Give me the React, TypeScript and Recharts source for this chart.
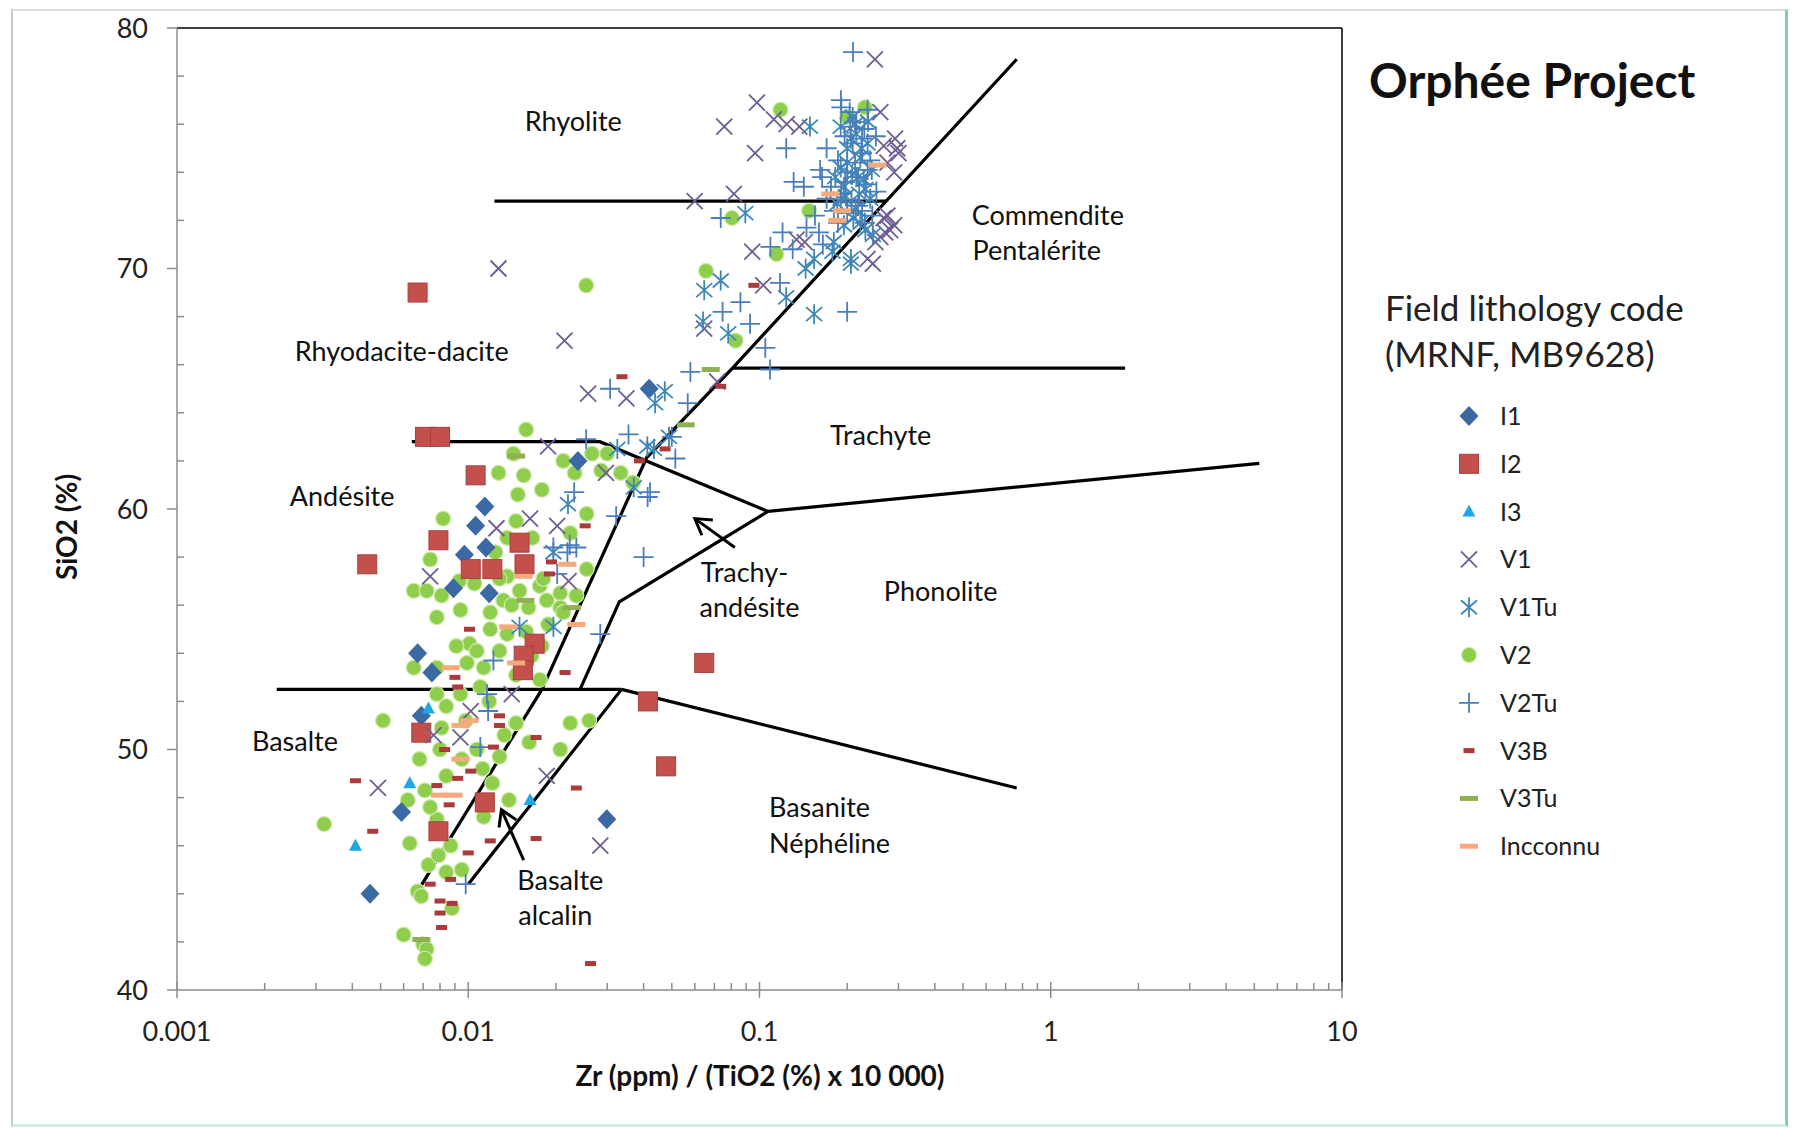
import React from 'react';
import { ScatterChart, Scatter, XAxis, YAxis, ReferenceLine, ReferenceDot, Legend } from 'recharts';

type Pt = [number, number];

const FONT = 'Lato, "Open Sans", sans-serif';
const AXIS = '#8c8c8c';

// axis ticks
const xMajor = [0.001, 0.01, 0.1, 1, 10];
const xTicks = [
  0.001, 0.002, 0.003, 0.004, 0.005, 0.006, 0.007, 0.008, 0.009,
  0.01, 0.02, 0.03, 0.04, 0.05, 0.06, 0.07, 0.08, 0.09,
  0.1, 0.2, 0.3, 0.4, 0.5, 0.6, 0.7, 0.8, 0.9,
  1, 2, 3, 4, 5, 6, 7, 8, 9, 10,
];
const yMajor = [40, 50, 60, 70, 80];
const yTicks = [40, 42, 44, 46, 48, 50, 52, 54, 56, 58, 60, 62, 64, 66, 68, 70, 72, 74, 76, 78, 80];

// field boundaries, Zr/TiO2 vs SiO2
const rhyoliteLine: Pt[] = [[0.0123, 72.8], [0.272, 72.8]];
const comenditeLine: Pt[] = [[0.764, 78.7], [0.0808, 65.86], [0.041, 62.14], [0.0179, 52.5], [0.0067, 44.1]];
const trachyteLine: Pt[] = [[0.0808, 65.86], [1.8, 65.86]];
const andesiteLine: Pt[] = [[0.0064, 62.8], [0.0283, 62.8], [0.107, 59.9]];
const phonoliteLine: Pt[] = [[0.107, 59.9], [5.2, 61.9]];
const trachyandesiteLine: Pt[] = [[0.107, 59.9], [0.033, 56.14], [0.0242, 52.5]];
const basaltLine: Pt[] = [[0.0022, 52.5], [0.0336, 52.5]];
const basaniteLine: Pt[] = [[0.0336, 52.5], [0.764, 48.4]];
const alkaliBasaltLine: Pt[] = [[0.0336, 52.5], [0.01, 44.4]];
const boundaries = [
  rhyoliteLine, comenditeLine, trachyteLine, andesiteLine, phonoliteLine,
  trachyandesiteLine, basaltLine, basaniteLine, alkaliBasaltLine,
];

const arrowTrachy: Pt[] = [[0.0823, 58.4], [0.06, 59.6]];
const arrowAlcalin: Pt[] = [[0.0155, 45.4], [0.013, 47.5]];

const fieldLabels: { text: string; x: number; y: number }[] = [
  { text: 'Rhyolite', x: 0.02295, y: 76.13 },
  { text: 'Commendite', x: 0.977, y: 72.22 },
  { text: 'Pentalérite', x: 0.895, y: 70.75 },
  { text: 'Rhyodacite-dacite', x: 0.00591, y: 66.57 },
  { text: 'Trachyte', x: 0.2606, y: 63.08 },
  { text: 'Andésite', x: 0.00369, y: 60.52 },
  { text: 'Trachy-', x: 0.0888, y: 57.38 },
  { text: 'andésite', x: 0.0924, y: 55.9 },
  { text: 'Phonolite', x: 0.4188, y: 56.57 },
  { text: 'Basalte', x: 0.00254, y: 50.35 },
  { text: 'Basanite', x: 0.1607, y: 47.58 },
  { text: 'Néphéline', x: 0.174, y: 46.1 },
  { text: 'Basalte', x: 0.0207, y: 44.57 },
  { text: 'alcalin', x: 0.0199, y: 43.1 },
];

// samples: [Zr/TiO2, SiO2]
const I1: Pt[] = [
  [0.0418, 65.0], [0.0238, 62.0], [0.0114, 60.1], [0.0106, 59.3], [0.0097, 58.1], [0.0115, 58.4],
  [0.0089, 56.7], [0.0118, 56.5], [0.0067, 54.0], [0.0075, 53.2], [0.0069, 51.4], [0.0059, 47.4],
  [0.0046, 44.0], [0.0299, 47.1],
];
const I2: Pt[] = [
  [0.0067, 69.0], [0.0071, 63.0], [0.008, 63.0], [0.0106, 61.4], [0.0045, 57.7], [0.0079, 58.7],
  [0.0102, 57.5], [0.0121, 57.5], [0.015, 58.6], [0.0156, 57.7], [0.0169, 54.4], [0.0155, 53.9],
  [0.0154, 53.3], [0.0646, 53.6], [0.0414, 52.0], [0.0478, 49.3], [0.0114, 47.8], [0.0079, 46.6],
  [0.0069, 50.7],
];
const I3: Pt[] = [[0.0063, 48.6], [0.0041, 46.0], [0.0073, 51.7], [0.0163, 47.9]];
const V1: Pt[] = [
  [0.249, 78.7], [0.098, 76.9], [0.0757, 75.9], [0.0966, 74.8], [0.0599, 72.8], [0.0817, 73.1],
  [0.0944, 70.7], [0.103, 69.3], [0.0646, 67.5], [0.0716, 65.3], [0.245, 70.2],
  [0.112, 76.2], [0.124, 76.0], [0.137, 75.9], [0.26, 76.5], [0.267, 75.1], [0.297, 75.0],
  [0.292, 75.4], [0.3, 74.8], [0.275, 74.4], [0.29, 74.0],
  [0.267, 72.1], [0.281, 71.6], [0.26, 71.3], [0.275, 72.2], [0.29, 71.8], [0.27, 71.5],
  [0.25, 71.1], [0.235, 70.4], [0.134, 71.2], [0.143, 71.1],
  [0.0127, 70.0], [0.0214, 67.0], [0.0258, 64.8], [0.0349, 64.6], [0.0188, 62.6], [0.0297, 61.5],
  [0.0163, 59.6], [0.0074, 57.2], [0.0125, 59.2], [0.0221, 57.0], [0.0202, 59.3], [0.0141, 52.3],
  [0.0102, 51.6], [0.0076, 50.6], [0.0094, 50.5], [0.0049, 48.4], [0.0186, 48.9], [0.0284, 46.0],
];
const V1Tu: Pt[] = [
  [0.149, 75.9], [0.0894, 72.3], [0.144, 70.0], [0.178, 70.7], [0.206, 70.2], [0.0736, 69.5],
  [0.0646, 69.1], [0.1235, 68.8], [0.154, 68.1], [0.064, 67.8], [0.0781, 67.3], [0.0473, 64.9],
  [0.0438, 64.4], [0.0412, 62.6], [0.0489, 63.0], [0.0325, 62.5],
  [0.209, 76.3], [0.206, 75.4], [0.224, 75.0], [0.2, 74.4], [0.218, 73.8], [0.231, 73.3],
  [0.195, 73.4], [0.185, 72.7], [0.214, 72.5], [0.231, 71.6], [0.18, 71.1], [0.206, 70.4], [0.154, 70.4],
  [0.19, 75.9], [0.215, 75.6], [0.235, 75.2], [0.2, 75.0], [0.222, 74.6], [0.19, 74.2], [0.243, 74.1],
  [0.208, 73.9], [0.228, 73.7], [0.198, 73.0], [0.22, 73.1], [0.24, 72.9], [0.21, 72.1], [0.195, 71.8],
  [0.222, 71.9], [0.245, 71.4], [0.19, 72.9], [0.213, 76.0], [0.236, 76.1], [0.182, 73.8],
  [0.022, 60.2], [0.0196, 58.2], [0.015, 55.1], [0.0196, 55.1], [0.037, 60.9], [0.0434, 62.5],
];
const V2: Pt[] = [
  [0.0158, 63.3], [0.0143, 62.3], [0.0127, 61.5], [0.0155, 61.4], [0.0179, 60.8], [0.0082, 59.6],
  [0.0255, 59.8], [0.0224, 59.0], [0.0212, 62.0], [0.0232, 61.5], [0.0266, 62.3], [0.0286, 61.6],
  [0.0074, 57.9], [0.0065, 56.6], [0.0072, 56.6], [0.0081, 56.4], [0.0078, 55.5], [0.0094, 55.8],
  [0.0136, 57.2], [0.015, 56.6], [0.0176, 56.8], [0.0207, 56.5], [0.0119, 55.7], [0.0119, 55.0],
  [0.0101, 54.4], [0.0136, 54.8], [0.0128, 54.1], [0.0091, 54.3], [0.0065, 53.4], [0.0099, 53.6],
  [0.0113, 53.4], [0.0207, 55.9], [0.0161, 55.9], [0.0235, 56.4], [0.0255, 57.5], [0.0107, 54.1],
  [0.0078, 53.4], [0.0084, 51.8], [0.0078, 52.3], [0.0094, 52.3], [0.0051, 51.2], [0.0081, 50.9],
  [0.0146, 51.1], [0.0146, 59.5], [0.0136, 58.8], [0.0128, 57.1], [0.0132, 56.2], [0.0181, 57.1],
  [0.0186, 56.2], [0.0212, 55.7], [0.0179, 54.3], [0.0146, 53.1], [0.0176, 52.9], [0.0224, 51.1],
  [0.026, 51.2], [0.0068, 49.6], [0.008, 50.0], [0.0084, 48.9], [0.0095, 49.6], [0.0107, 50.0],
  [0.0162, 50.3], [0.0207, 50.0], [0.0063, 46.1], [0.0078, 47.1], [0.0087, 46.0], [0.0113, 47.2],
  [0.0067, 44.1], [0.0069, 43.9], [0.0084, 44.9], [0.0095, 45.0], [0.0088, 43.4], [0.006, 42.3],
  [0.007, 41.9], [0.0072, 41.7], [0.0071, 41.3], [0.0032, 46.9], [0.0166, 58.8], [0.011, 52.6],
  [0.0121, 48.6], [0.0138, 47.9], [0.0071, 48.3], [0.0074, 47.6], [0.0062, 47.9],
  [0.0105, 56.9], [0.0124, 58.2], [0.0093, 57.0], [0.0141, 56.0], [0.0158, 54.9], [0.0188, 55.2],
  [0.0118, 52.0], [0.0133, 50.6], [0.0098, 51.2], [0.0112, 49.2], [0.0128, 49.7], [0.0073, 45.2],
  [0.0079, 45.6], [0.0165, 53.9], [0.0148, 60.6],
  [0.0254, 69.3], [0.1143, 70.6], [0.0828, 67.0], [0.0805, 72.1], [0.118, 76.6], [0.23, 76.7],
  [0.0655, 69.9], [0.148, 72.4], [0.2, 76.3], [0.03, 62.3], [0.0334, 61.5], [0.0368, 61.1],
];
const V2Tu: Pt[] = [
  [0.2094, 79.0], [0.1903, 77.0], [0.1235, 75.0], [0.131, 73.6], [0.142, 73.4], [0.1615, 74.1],
  [0.109, 70.9], [0.13, 70.8], [0.16, 71.5],
  [0.191, 76.7], [0.204, 76.5], [0.215, 76.1], [0.229, 75.8], [0.196, 75.5], [0.209, 75.2],
  [0.225, 74.8], [0.24, 74.5], [0.186, 74.5], [0.2, 74.0], [0.215, 73.8], [0.232, 73.5],
  [0.176, 73.4], [0.191, 73.1], [0.207, 72.8], [0.225, 72.4], [0.244, 72.2], [0.18, 72.4],
  [0.164, 73.8], [0.17, 75.0], [0.251, 75.5], [0.235, 76.6],
  [0.205, 75.9], [0.225, 75.4], [0.213, 74.4], [0.197, 73.6], [0.235, 74.1], [0.218, 72.6],
  [0.2, 72.3], [0.23, 71.9], [0.186, 71.9], [0.17, 72.9], [0.252, 73.2], [0.165, 71.0],
  [0.155, 72.2], [0.145, 71.7], [0.12, 71.5],
  [0.0736, 72.1], [0.2, 68.2], [0.086, 68.6], [0.0747, 68.2], [0.0928, 67.7], [0.1047, 66.7],
  [0.1087, 65.8], [0.0579, 65.7], [0.1176, 69.4],
  [0.0307, 65.0], [0.0567, 64.4], [0.0355, 63.1], [0.05, 63.0], [0.0514, 62.1], [0.0421, 60.7],
  [0.0254, 62.9], [0.0413, 60.5], [0.0322, 59.7], [0.04, 58.0], [0.0284, 54.8], [0.0223, 58.5],
  [0.0231, 60.7], [0.0196, 58.4], [0.0219, 58.2], [0.0235, 58.4], [0.0202, 57.3], [0.0122, 53.7],
  [0.0116, 52.3], [0.0117, 51.6], [0.011, 50.1], [0.0098, 44.4],
];
const V3B: Pt[] = [
  [0.0041, 48.7], [0.0047, 46.6], [0.0083, 50.0], [0.0092, 48.8], [0.0078, 48.5], [0.0086, 47.7],
  [0.01, 45.7], [0.0119, 46.2], [0.0171, 46.3], [0.0235, 48.4], [0.0215, 53.2], [0.0171, 50.5],
  [0.0128, 51.4], [0.0128, 51.0], [0.0122, 50.1], [0.0102, 49.1], [0.0087, 44.6], [0.008, 43.7],
  [0.0088, 43.6], [0.008, 43.2], [0.0081, 42.6], [0.0263, 41.1], [0.009, 53.0], [0.0092, 52.6],
  [0.0074, 44.4], [0.0337, 65.5], [0.0474, 62.5], [0.0387, 62.0], [0.0957, 69.3], [0.0736, 65.1],
  [0.0252, 59.3], [0.0193, 57.8], [0.019, 57.3], [0.0101, 55.0],
];
const V3Tu: Pt[] = [[0.068, 65.8], [0.0558, 63.5], [0.0157, 56.2], [0.0227, 55.9], [0.0146, 62.2], [0.0069, 42.1]];
const Incconnu: Pt[] = [
  [0.254, 74.3], [0.175, 73.1], [0.192, 72.4], [0.185, 72.0], [0.0155, 57.2], [0.0219, 57.7],
  [0.0137, 55.1], [0.0235, 55.2], [0.0087, 53.4], [0.0146, 53.6], [0.0094, 51.0], [0.0101, 51.2],
  [0.008, 48.1], [0.0089, 48.1], [0.0094, 49.6],
];

const legendOrder = ['I1', 'I2', 'I3', 'V1', 'V1Tu', 'V2', 'V2Tu', 'V3B', 'V3Tu', 'Incconnu'];
// V2 drawn first so the other codes sit on top of the green cloud
const series: { name: string; pts: Pt[] }[] = [
  { name: 'V2', pts: V2 },
  { name: 'I1', pts: I1 },
  { name: 'I2', pts: I2 },
  { name: 'I3', pts: I3 },
  { name: 'V1', pts: V1 },
  { name: 'V1Tu', pts: V1Tu },
  { name: 'V2Tu', pts: V2Tu },
  { name: 'V3B', pts: V3B },
  { name: 'V3Tu', pts: V3Tu },
  { name: 'Incconnu', pts: Incconnu },
];

const toObj = (pts: Pt[]) => pts.map(([x, y]) => ({ x, y }));

const markers: Record<string, (x: number, y: number) => React.ReactElement> = {
  I1: (x, y) => <path d={`M${x},${y - 10}L${x + 9.5},${y}L${x},${y + 10}L${x - 9.5},${y}Z`} fill="#3b69a3" />,
  I2: (x, y) => <rect x={x - 9.5} y={y - 9.5} width={19} height={19} fill="#c4504c" stroke="#a6403d" strokeWidth={1} />,
  I3: (x, y) => <path d={`M${x},${y - 7}L${x + 6.5},${y + 5}L${x - 6.5},${y + 5}Z`} fill="#1da7e5" />,
  V1: (x, y) => (
    <path d={`M${x - 8},${y - 8}L${x + 8},${y + 8}M${x - 8},${y + 8}L${x + 8},${y - 8}`} stroke="#6d5d93" strokeWidth={1.8} fill="none" />
  ),
  V1Tu: (x, y) => (
    <path
      d={`M${x - 8},${y - 7}L${x + 8},${y + 7}M${x - 8},${y + 7}L${x + 8},${y - 7}M${x},${y - 10}L${x},${y + 10}`}
      stroke="#3d86b6" strokeWidth={1.8} fill="none"
    />
  ),
  V2: (x, y) => <circle cx={x} cy={y} r={7.5} fill="#8fce4c" stroke="#cdeaa9" strokeWidth={1.2} />,
  V2Tu: (x, y) => (
    <path d={`M${x - 10},${y}L${x + 10},${y}M${x},${y - 10}L${x},${y + 10}`} stroke="#4a7dbb" strokeWidth={1.8} fill="none" />
  ),
  V3B: (x, y) => <rect x={x - 5.5} y={y - 2.5} width={11} height={5} fill="#ab3a3c" />,
  V3Tu: (x, y) => <rect x={x - 9} y={y - 2.5} width={18} height={5} fill="#8fb052" />,
  Incconnu: (x, y) => <rect x={x - 9} y={y - 2.5} width={18} height={5} fill="#f6a97c" />,
};

const shapeFor = (name: string) => (p: any) => (p.cx == null ? <g /> : markers[name](p.cx, p.cy));

const XTick = (p: any) => {
  const { x, y, payload } = p;
  const v = payload.value;
  const major = xMajor.includes(v);
  return (
    <g>
      <line x1={x} x2={x} y1={major ? y - 8 : y - 7} y2={major ? y + 8 : y} stroke={AXIS} strokeWidth={1.5} />
      {major && (
        <text x={x} y={y + 51} textAnchor="middle" fontSize={27} fill="#222">{String(v)}</text>
      )}
    </g>
  );
};

const YTick = (p: any) => {
  const { x, y, payload } = p;
  const v = payload.value;
  const major = yMajor.includes(v);
  return (
    <g>
      <line x1={major ? x - 10 : x} x2={major ? x : x + 7} y1={y} y2={y} stroke={AXIS} strokeWidth={1.5} />
      {major && (
        <text x={x - 29} y={y + 9.5} textAnchor="end" fontSize={27} fill="#222">{v}</text>
      )}
    </g>
  );
};

const ArrowShape = (p: any) => {
  const { x1, y1, x2, y2 } = p;
  const a = Math.atan2(y1 - y2, x1 - x2);
  const len = 18;
  const s = 0.55;
  const l = [x2 + len * Math.cos(a + s), y2 + len * Math.sin(a + s)];
  const r = [x2 + len * Math.cos(a - s), y2 + len * Math.sin(a - s)];
  return (
    <g stroke="#000" strokeWidth={3} fill="none">
      <line x1={x1} y1={y1} x2={x2} y2={y2} />
      <polyline points={`${l[0]},${l[1]} ${x2},${y2} ${r[0]},${r[1]}`} />
    </g>
  );
};

const renderLegend = (props: any) => {
  const items = (props.payload || [])
    .filter((e: any) => legendOrder.includes(e.value))
    .sort((a: any, b: any) => legendOrder.indexOf(a.value) - legendOrder.indexOf(b.value));
  return (
    <svg width={430} height={880} style={{ fontFamily: FONT }}>
      <text x={9} y={78} fontSize={48} fontWeight={700} fill="#111">Orphée Project</text>
      <text x={25} y={301} fontSize={35} fill="#222">Field lithology code</text>
      <text x={25} y={347} fontSize={35} fill="#222">(MRNF, MB9628)</text>
      {items.map((e: any, i: number) => {
        const cy = 396 + i * 47.8;
        return (
          <g key={e.value}>
            {markers[e.value](109, cy)}
            <text x={140} y={cy + 9} fontSize={25} fill="#222">{e.value}</text>
          </g>
        );
      })}
    </svg>
  );
};

const XTitle = () => (
  <text x={760} y={1086} textAnchor="middle" fontSize={28} fontWeight={700} fill="#111">
    Zr (ppm) / (TiO2 (%) x 10 000)
  </text>
);

const YTitle = () => (
  <text x={66} y={527} transform="rotate(-90, 66, 527)" textAnchor="middle" dominantBaseline="central" fontSize={28} fontWeight={700} fill="#111">
    SiO2 (%)
  </text>
);

export default function App() {
  return (
    <div style={{ position: 'fixed', left: 0, top: 0, width: 1794, height: 1129, background: '#fff', overflow: 'hidden', fontFamily: FONT }}>
      <div
        style={{
          position: 'absolute', left: 11, top: 9, width: 1772, height: 1113,
          borderTop: '2px solid #d9dcdc', borderLeft: '2px solid #c6caca',
          borderRight: '3px solid #86c9bf', borderBottom: '3px solid #d3ebe7',
        }}
      />
      <ScatterChart width={1794} height={1129} margin={{ top: 28, right: 452, bottom: 39, left: 77 }}>
        <XAxis
          type="number" dataKey="x" scale="log" domain={[0.001, 10]} allowDataOverflow
          ticks={xTicks} interval={0} tickSize={0} tickMargin={0} tick={<XTick />} tickLine={false}
          axisLine={{ stroke: AXIS, strokeWidth: 1.5 }} height={100} label={<XTitle />}
        />
        <YAxis
          type="number" dataKey="y" domain={[40, 80]} allowDataOverflow
          ticks={yTicks} interval={0} tickSize={0} tickMargin={0} tick={<YTick />} tickLine={false}
          axisLine={{ stroke: AXIS, strokeWidth: 1.5 }} width={100} label={<YTitle />}
        />
        <ReferenceLine y={80} stroke="#000" strokeWidth={1.5} />
        <ReferenceLine x={10} stroke="#000" strokeWidth={1.5} />
        {boundaries.map((b, i) => (
          <Scatter
            key={`b${i}`} data={toObj(b)} line={{ stroke: '#000', strokeWidth: 3.2 }}
            shape={() => <g />} legendType="none" isAnimationActive={false}
          />
        ))}
        {[arrowTrachy, arrowAlcalin].map((a, i) => (
          <ReferenceLine
            key={`a${i}`} segment={[{ x: a[0][0], y: a[0][1] }, { x: a[1][0], y: a[1][1] }]}
            shape={ArrowShape} ifOverflow="visible"
          />
        ))}
        {fieldLabels.map((l, i) => (
          <ReferenceDot
            key={`l${i}`} x={l.x} y={l.y} r={0} fill="none" stroke="none"
            label={{ value: l.text, position: 'center', fontSize: 27, fill: '#111' }}
          />
        ))}
        {series.map((s) => (
          <Scatter key={s.name} name={s.name} data={toObj(s.pts)} shape={shapeFor(s.name)} isAnimationActive={false} />
        ))}
        <Legend
          layout="vertical" align="center" verticalAlign="middle"
          wrapperStyle={{ left: 1360, top: 20, width: 430, height: 880 }}
          content={renderLegend}
        />
      </ScatterChart>
    </div>
  );
}
